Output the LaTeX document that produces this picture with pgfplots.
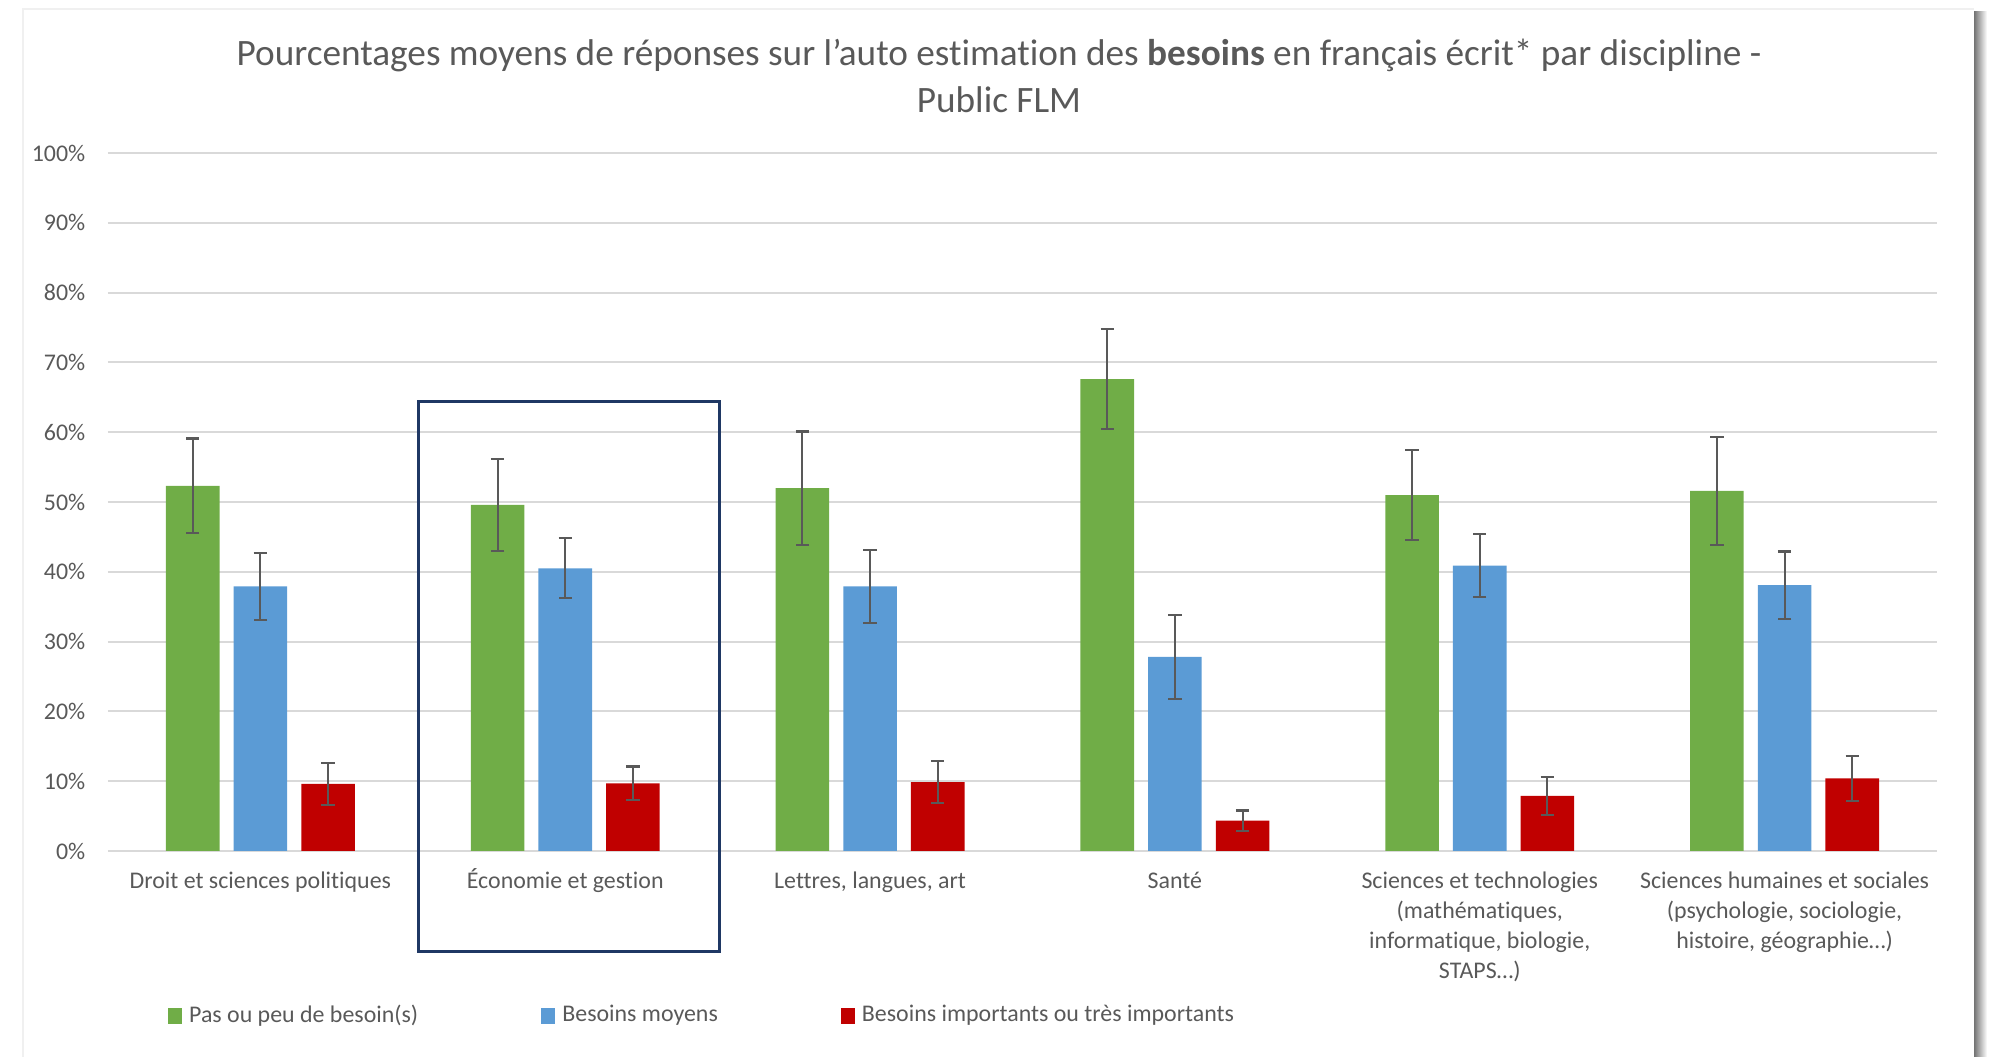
\documentclass[border=0pt]{standalone}
\usepackage{fontspec}
\setmainfont{Carlito}[Ligatures=NoCommon]
\usepackage{pgfplots}
\pgfplotsset{compat=1.18}
\usepackage{pgfplotstable}
\definecolor{cgreen}{HTML}{70AD47}
\definecolor{cblue}{HTML}{5B9BD5}
\definecolor{cred}{HTML}{C00000}
\definecolor{txtgray}{HTML}{595959}
\definecolor{gridgray}{HTML}{D9D9D9}
\definecolor{errgray}{HTML}{595959}
\definecolor{navy}{HTML}{1F3864}

\pgfplotstableread{
x y err
0 52.3 6.8
1 49.6 6.6
2 52.0 8.1
3 67.6 7.2
4 51.0 6.5
5 51.6 7.7
}\greendata
\pgfplotstableread{
x y err
0 37.9 4.8
1 40.5 4.3
2 37.9 5.2
3 27.8 6.05
4 40.9 4.5
5 38.1 4.8
}\bluedata
\pgfplotstableread{
x y err
0 9.6 3.0
1 9.7 2.4
2 9.85 3.0
3 4.35 1.45
4 7.9 2.75
5 10.4 3.2
}\reddata

\newcommand{\st}{\vphantom{É}}
\newcommand{\labSciTech}{\st Sciences et technologies\\(mathématiques,\\informatique, biologie,\\STAPS\ldots)}
\newcommand{\labSHS}{\st Sciences humaines et sociales\\(psychologie, sociologie,\\histoire, géographie\ldots)}

\begin{document}
\begin{tikzpicture}
\path[use as bounding box] (0,0) rectangle (20cm,10.57cm);
% page frame
\draw[color=black!6, line width=0.8pt] (0.23cm,0) -- (0.23cm,10.48cm) -- (19.74cm,10.48cm);
\shade[left color=black!55, right color=white] (19.74cm,0) rectangle (19.87cm,10.45cm);
% title
\node[align=center, text=txtgray, font=\fontsize{10.6}{13.4}\selectfont] at (9.99cm,9.815cm)
 {Pourcentages moyens de réponses sur l’auto estimation des \textbf{besoins} en français écrit* par discipline -\\Public FLM};
\begin{axis}[
  at={(1.08cm,2.06cm)}, anchor=south west,
  scale only axis, width=18.29cm, height=6.98cm,
  xmin=-0.5, xmax=5.5, ymin=0, ymax=100,
  clip=false,
  axis line style={draw=none},
  major tick length=0pt,
  ymajorgrids, grid style={color=gridgray, line width=0.6pt},
  ytick={0,10,20,30,40,50,60,70,80,90,100},
  /pgf/number format/assume math mode=true,
  yticklabel={\pgfmathprintnumber{\tick}\%},
  yticklabel style={anchor=east, inner sep=0pt, xshift=-0.22cm},
  ticklabel style={font=\fontsize{6.8}{8.5}\selectfont, text=txtgray},
  xtick={0,1,2,3,4,5},
  xticklabels={\st Droit et sciences politiques, \st Économie et gestion, {\st Lettres, langues, art}, \st Santé,
    {\labSciTech}, {\labSHS}},
  xticklabel style={align=center, anchor=north, inner sep=0pt, yshift=-0.17cm},
  ybar, bar width=0.176,
  legend columns=3,
  legend style={at={(0.0325,-0.2364)}, anchor=west, draw=none, fill=none,
    font=\fontsize{6.8}{8.5}\selectfont, text=txtgray, inner sep=0pt,
    /tikz/every even column/.append style={column sep=1.16cm}},
  legend cell align=left,
  legend image code/.code={\fill[#1] (0.025cm,-0.083cm) rectangle (0.165cm,0.083cm);},
  error bars/y dir=both, error bars/y explicit,
  error bars/error bar style={color=errgray, line width=0.6pt},
  error bars/error mark options={rotate=90, mark size=1.9pt, line width=0.6pt, color=errgray},
]
\addplot[fill=cgreen, draw=none, bar shift=-0.222] table[x=x, y=y, y error=err] {\greendata};
\addlegendentry{Pas ou peu de besoin(s)}
\addplot[fill=cblue, draw=none, bar shift=0] table[x=x, y=y, y error=err] {\bluedata};
\addlegendentry{Besoins moyens}
\addplot[fill=cred, draw=none, bar shift=0.222] table[x=x, y=y, y error=err] {\reddata};
\addlegendentry{Besoins importants ou très importants}
\draw[color=navy, line width=0.85pt] (axis cs:0.519,64.4) rectangle (axis cs:1.506,-14.35);
\end{axis}
\end{tikzpicture}
\end{document}
